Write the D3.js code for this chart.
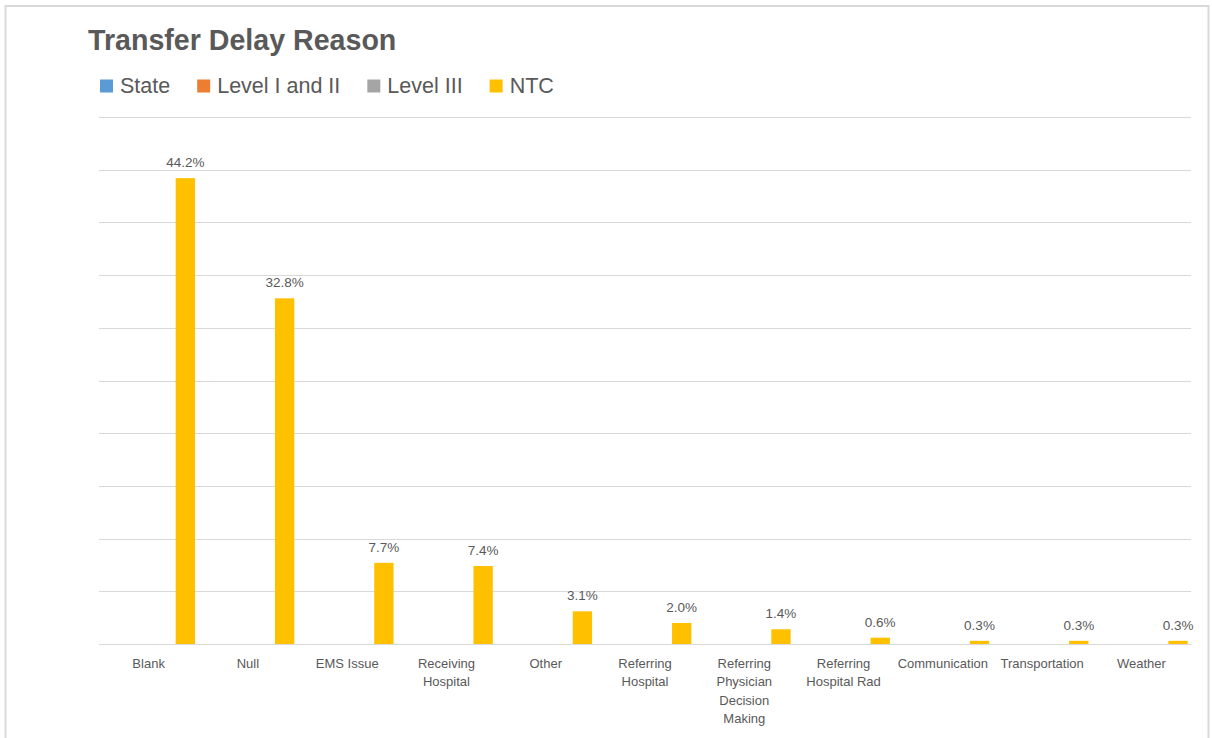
<!DOCTYPE html>
<html>
<head>
<meta charset="utf-8">
<script src="https://cdn.jsdelivr.net/npm/d3@7"></script>
<style>
	body { margin: 0; background: #fff; }
	svg { display: block; font-family: "Liberation Sans", Arial, sans-serif; }
</style>
</head>
<body>
<svg id="vis" width="1212" height="738"></svg>
<script>
// chart data
var categories = ["Blank", "Null", "EMS Issue", "Receiving Hospital", "Other", "Referring Hospital",
	"Referring Physician Decision Making", "Referring Hospital Rad", "Communication", "Transportation", "Weather"];
var seriesNames = ["State", "Level I and II", "Level III", "NTC"];
var seriesColors = ["#5b9bd5", "#ed7d31", "#a5a5a5", "#ffc000"];
var stateValues = [null, null, null, null, null, null, null, null, null, null, null];
var level12Values = [null, null, null, null, null, null, null, null, null, null, null];
var level3Values = [null, null, null, null, null, null, null, null, null, null, null];
var ntcValues = [44.2, 32.8, 7.7, 7.4, 3.1, 2.0, 1.4, 0.6, 0.3, 0.3, 0.3];
var yTicks = [0, 5, 10, 15, 20, 25, 30, 35, 40, 45, 50];

var allSeries = [stateValues, level12Values, level3Values, ntcValues];

var svg = d3.select("#vis");
var textColor = "#595959";

// outer frame
svg.append("rect")
	.attr("x", 5.5).attr("y", 6)
	.attr("width", 1203).attr("height", 800)
	.attr("fill", "none")
	.attr("stroke", "#d9d9d9")
	.attr("stroke-width", 2);

var plotLeft = 99, plotRight = 1191, plotTop = 117, plotBottom = 644;

var x0 = d3.scaleBand().domain(categories).range([plotLeft, plotRight]).padding(0);
var bw = x0.bandwidth();
var x1 = d3.scaleBand().domain(seriesNames)
	.range([bw * 0.033, bw * 0.967])
	.paddingInner(0.21);
var y = d3.scaleLinear().domain([0, 50]).range([plotBottom, plotTop]);

// gridlines
svg.append("g").selectAll("line")
	.data(yTicks)
	.enter()
	.append("line")
	.attr("x1", plotLeft).attr("x2", plotRight)
	.attr("y1", d => Math.round(y(d)) + 0.5)
	.attr("y2", d => Math.round(y(d)) + 0.5)
	.attr("stroke", "#d9d9d9")
	.attr("stroke-width", 1);

// bars
var rows = [];
allSeries.forEach((vals, si) => {
	vals.forEach((v, ci) => {
		if (v != null) rows.push({ cat: categories[ci], series: seriesNames[si], color: seriesColors[si], value: v });
	});
});

svg.append("g").selectAll("rect")
	.data(rows)
	.enter()
	.append("rect")
	.attr("x", d => x0(d.cat) + x1(d.series))
	.attr("y", d => y(d.value))
	.attr("width", x1.bandwidth())
	.attr("height", d => y(0) - y(d.value))
	.attr("fill", d => d.color);

// value labels
svg.append("g").selectAll("text")
	.data(rows)
	.enter()
	.append("text")
	.attr("x", d => x0(d.cat) + x1(d.series) + x1.bandwidth() / 2)
	.attr("y", d => y(d.value) - 11)
	.attr("text-anchor", "middle")
	.attr("font-size", 13.5)
	.attr("fill", textColor)
	.text(d => d.value.toFixed(1) + "%");

// category axis
var xAxis = d3.axisBottom(x0).tickSize(0).tickPadding(0);
var axisG = svg.append("g")
	.attr("transform", "translate(0," + plotBottom + ")")
	.call(xAxis);
axisG.select(".domain").remove();
axisG.selectAll("text")
	.attr("font-size", 13)
	.attr("font-family", "Liberation Sans, Arial, sans-serif")
	.attr("fill", textColor)
	.attr("dy", null)
	.attr("y", 24)
	.call(wrap, bw - 10);

function wrap(texts, width) {
	texts.each(function() {
		var text = d3.select(this);
		var words = text.text().split(/\s+/);
		var lines = [];
		var line = [];
		text.text(null);
		var tspan = text.append("tspan").attr("x", 0);
		words.forEach(w => {
			line.push(w);
			tspan.text(line.join(" "));
			if (tspan.node().getComputedTextLength() > width && line.length > 1) {
				line.pop();
				lines.push(line.join(" "));
				line = [w];
			}
		});
		lines.push(line.join(" "));
		tspan.remove();
		lines.forEach((l, i) => {
			text.append("tspan")
				.attr("x", 0)
				.attr("dy", i === 0 ? 0 : 18.3)
				.text(l);
		});
	});
}

// title
svg.append("text")
	.attr("x", 88).attr("y", 50)
	.attr("font-size", 28.6)
	.attr("font-weight", "bold")
	.attr("fill", textColor)
	.text("Transfer Delay Reason");

// legend
var legend = svg.append("g");
var lx = 100;
seriesNames.forEach((name, i) => {
	legend.append("rect")
		.attr("x", lx).attr("y", 79.5)
		.attr("width", 13).attr("height", 13)
		.attr("fill", seriesColors[i]);
	var t = legend.append("text")
		.attr("x", lx + 20).attr("y", 93)
		.attr("font-size", 21.5)
		.attr("fill", textColor)
		.text(name);
	lx = lx + 20 + t.node().getComputedTextLength() + 27;
});
</script>
</body>
</html>
